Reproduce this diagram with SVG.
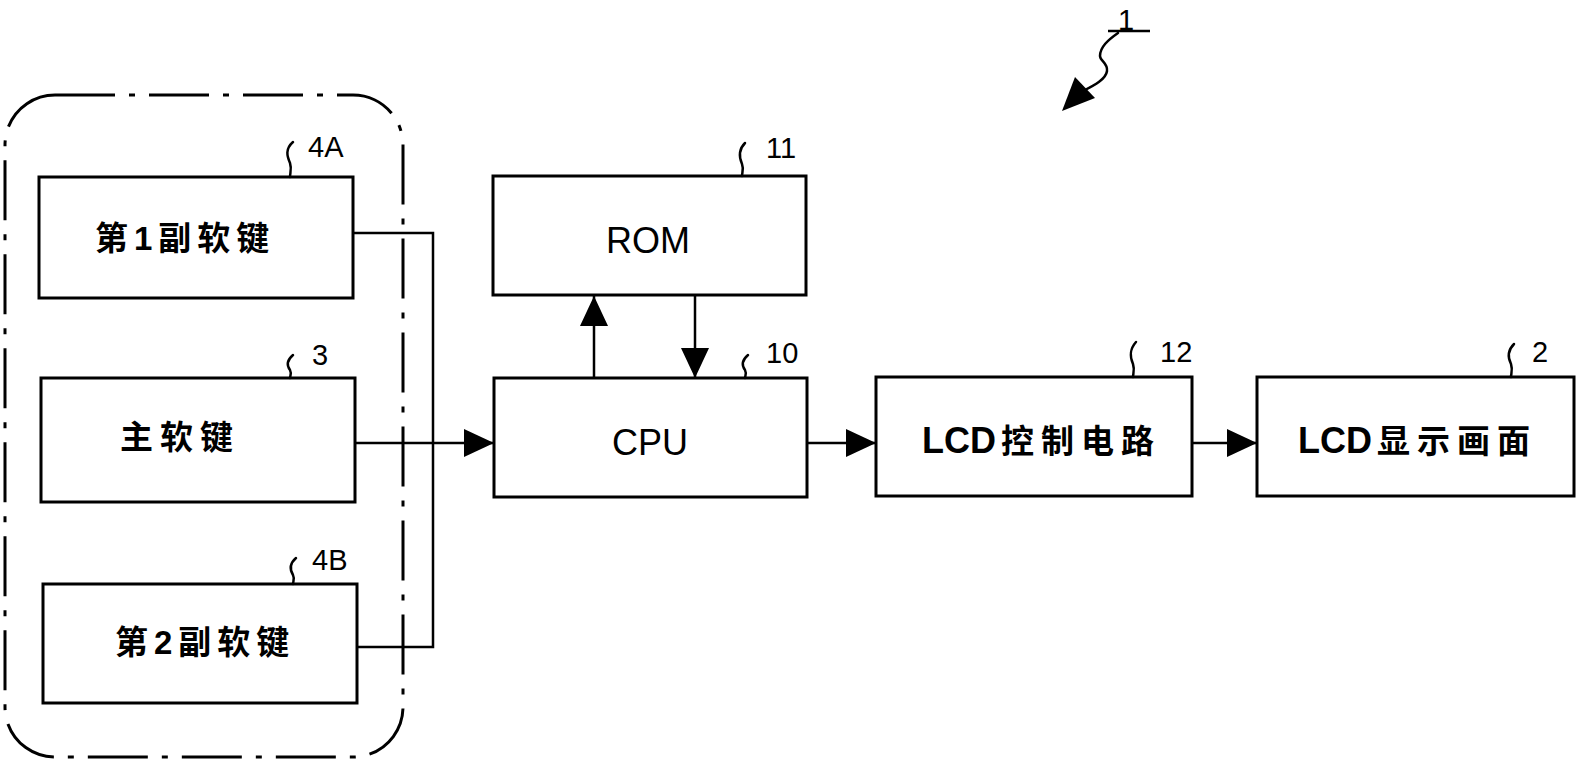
<svg xmlns="http://www.w3.org/2000/svg" width="1581" height="763" viewBox="0 0 1581 763">
<style>
.box{fill:#fff;stroke:#000;stroke-width:3}
.ln{fill:none;stroke:#000;stroke-width:2.5}
.sq{fill:none;stroke:#000;stroke-width:2.5;stroke-linecap:round}
.cjk{font-family:"Noto Sans CJK SC","Liberation Sans",sans-serif;font-weight:bold;font-size:33px;fill:#000}
.num{font-family:"Liberation Sans",Arial,sans-serif;font-weight:bold}
.lat{font-family:"Liberation Sans",Arial,sans-serif;font-size:36px;fill:#000}
.lbl{font-family:"Liberation Sans",Arial,sans-serif;font-size:29px;fill:#000}
.grp{fill:none;stroke:#000;stroke-width:3;stroke-dasharray:60 14 6 14}
</style>
<defs>
<marker id="big" viewBox="0 0 30 28" refX="30" refY="14" markerWidth="30" markerHeight="28" markerUnits="userSpaceOnUse" orient="auto">
<path d="M0,0 L30,14 L0,28 Z" fill="#000"/>
</marker>
</defs>
<rect width="1581" height="763" fill="#fff"/>

<g id="group-keys">
<rect class="grp" x="5" y="95" width="398" height="662" rx="50" ry="50"/>
</g>

<g id="node-4A">
<rect class="box" x="39" y="177" width="314" height="121"/>
<text class="cjk" x="95" y="250" letter-spacing="6">第<tspan class="num">1</tspan>副软键</text>
<path class="sq" d="M293,142 C285,149 287,156 290,163 C292,169 290,173 290,177"/>
<text class="lbl" x="308" y="157">4A</text>
</g>

<g id="node-3">
<rect class="box" x="41" y="378" width="314" height="124"/>
<text class="cjk" x="120" y="449" letter-spacing="7">主软键</text>
<path class="sq" d="M293,355 C286,361 287,366 290,370 C292,374 290,376 290,378"/>
<text class="lbl" x="312" y="365">3</text>
</g>

<g id="node-4B">
<rect class="box" x="43" y="584" width="314" height="119"/>
<text class="cjk" x="115" y="654" letter-spacing="6">第<tspan class="num">2</tspan>副软键</text>
<path class="sq" d="M296,558 C289,564 290,570 293,575 C295,579 293,582 293,584"/>
<text class="lbl" x="312" y="570">4B</text>
</g>

<g id="node-11">
<rect class="box" x="493" y="176" width="313" height="119"/>
<text class="lat" x="648" y="253" text-anchor="middle">ROM</text>
<path class="sq" d="M745,143 C738,150 739,157 742,164 C744,169 742,173 742,176"/>
<text class="lbl" x="766" y="158">11</text>
</g>

<g id="node-10">
<rect class="box" x="494" y="378" width="313" height="119"/>
<text class="lat" x="650" y="455" text-anchor="middle">CPU</text>
<path class="sq" d="M748,355 C741,361 742,366 745,370 C747,374 745,376 745,378"/>
<text class="lbl" x="766" y="363">10</text>
</g>

<g id="node-12">
<rect class="box" x="876" y="377" width="316" height="119"/>
<text class="cjk" x="922" y="453"><tspan class="num" font-size="36">LCD</tspan><tspan dx="5" letter-spacing="7">控制电路</tspan></text>
<path class="sq" d="M1136,342 C1129,350 1130,357 1133,364 C1135,370 1133,374 1133,377"/>
<text class="lbl" x="1160" y="362">12</text>
</g>

<g id="node-2">
<rect class="box" x="1257" y="377" width="317" height="119"/>
<text class="cjk" x="1298" y="453"><tspan class="num" font-size="36">LCD</tspan><tspan dx="5" letter-spacing="7">显示画面</tspan></text>
<path class="sq" d="M1514,344 C1507,351 1508,358 1511,364 C1513,370 1511,374 1511,377"/>
<text class="lbl" x="1532" y="362">2</text>
</g>

<g id="ref-1">
<text class="lbl" x="1118" y="30" font-size="34">1</text>
<line class="ln" x1="1108" y1="31" x2="1150" y2="31"/>
<path class="sq" d="M1118,33 C1108,40 1100,47 1100,56 C1100,61 1108,63 1107,71 C1106,79 1095,85 1083,91"/>
<polygon points="1075,77 1095,98 1062,111" fill="#000"/>
</g>

<g id="connectors">
<polyline class="ln" points="353,233 433,233 433,647 357,647"/>
<line class="ln" x1="355" y1="443" x2="494" y2="443" marker-end="url(#big)"/>
<line class="ln" x1="594" y1="378" x2="594" y2="296" marker-end="url(#big)"/>
<line class="ln" x1="695" y1="295" x2="695" y2="378" marker-end="url(#big)"/>
<line class="ln" x1="807" y1="443" x2="876" y2="443" marker-end="url(#big)"/>
<line class="ln" x1="1192" y1="443" x2="1257" y2="443" marker-end="url(#big)"/>
</g>
</svg>
